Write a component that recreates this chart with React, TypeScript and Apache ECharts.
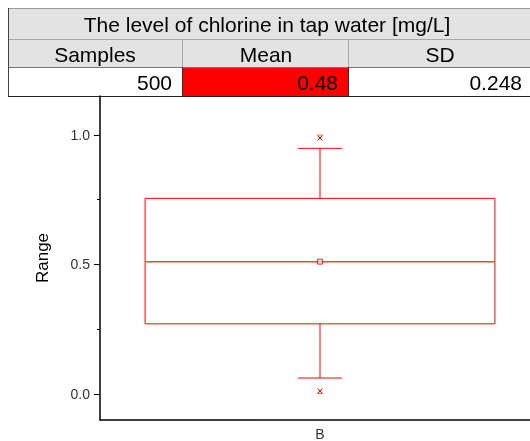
import React, { useEffect, useRef } from "react";
import * as echarts from "echarts";

// ---- data ----
const categories = ["B"];
const whiskerLow = [0.062];
const q1 = [0.271];
const median = [0.511];
const q3 = [0.755];
const whiskerHigh = [0.948];
const means = [0.511];
const pct1 = [0.012];
const pct99 = [0.988];
const minVals = [0.002];
const maxVals = [0.999];
const yMajorTicks = [0, 0.5, 1.0];
const yMinorTicks = [0.25, 0.75];

const tableTitle = "The level of chlorine in tap water [mg/L]";
const tableHeaders = ["Samples", "Mean", "SD"];
const tableValues = ["500", "0.48", "0.248"];

const RED = "#ff0000";
const FONT = "Liberation Sans, Arial, sans-serif";

export default function App() {
  const ref = useRef<HTMLDivElement>(null);
  useEffect(() => {
    if (!ref.current) return;
    const chart = echarts.init(ref.current, null, { renderer: "svg" });

    const boxData = categories.map((_, i) => [i, whiskerLow[i], q1[i], median[i], q3[i], whiskerHigh[i]]);
    const xMarks: number[][] = [];
    const dashMarks: number[][] = [];
    categories.forEach((_, i) => {
      xMarks.push([i, pct1[i]], [i, pct99[i]]);
      dashMarks.push([i, minVals[i]], [i, maxVals[i]]);
    });
    const meanData = categories.map((_, i) => [i, means[i]]);

    // table geometry
    const tX = 8, tR = 534;
    const colX = [8, 182, 348, 534];
    const rowY = [8, 39, 67, 96];
    const graphics: any[] = [];
    graphics.push({ type: "rect", shape: { x: tX, y: rowY[0], width: tR - tX, height: rowY[2] - rowY[0] }, style: { fill: "#e3e3e3" }, silent: true });
    graphics.push({ type: "rect", shape: { x: tX, y: rowY[2], width: tR - tX, height: rowY[3] - rowY[2] }, style: { fill: "#ffffff" }, silent: true });
    graphics.push({ type: "rect", shape: { x: colX[1], y: rowY[2], width: colX[2] - colX[1], height: rowY[3] - rowY[2] }, style: { fill: RED }, silent: true });
    const hl = (y: number, c: string, w = 1) => graphics.push({ type: "line", shape: { x1: tX, y1: y, x2: tR, y2: y }, style: { stroke: c, lineWidth: w }, silent: true });
    hl(rowY[0] + 0.5, "#9a9a9a");
    hl(rowY[1] + 0.5, "#a8a8a8");
    hl(rowY[2] + 0.5, "#777777");
    hl(rowY[3] + 0.5, "#222222");
    graphics.push({ type: "line", shape: { x1: tX + 0.5, y1: rowY[0], x2: tX + 0.5, y2: rowY[3] }, style: { stroke: "#444", lineWidth: 1 }, silent: true });
    [1, 2].forEach((c) => {
      graphics.push({ type: "line", shape: { x1: colX[c] + 0.5, y1: rowY[1], x2: colX[c] + 0.5, y2: rowY[2] }, style: { stroke: "#a8a8a8", lineWidth: 1 }, silent: true });
      graphics.push({ type: "line", shape: { x1: colX[c] + 0.5, y1: rowY[2], x2: colX[c] + 0.5, y2: rowY[3] }, style: { stroke: "#333", lineWidth: 1 }, silent: true });
    });
    graphics.push({ type: "text", x: 267, y: (rowY[0] + rowY[1]) / 2 + 1, style: { text: tableTitle, fill: "#000", font: `21px ${FONT}`, align: "center", verticalAlign: "middle" }, silent: true });
    const headerCenters = [95, 266, 440];
    tableHeaders.forEach((h, i) => {
      graphics.push({ type: "text", x: headerCenters[i], y: (rowY[1] + rowY[2]) / 2 + 1, style: { text: h, fill: "#000", font: `21px ${FONT}`, align: "center", verticalAlign: "middle" }, silent: true });
    });
    const valueRights = [172, 338, 522];
    tableValues.forEach((v, i) => {
      graphics.push({ type: "text", x: valueRights[i], y: (rowY[2] + rowY[3]) / 2 + 1, style: { text: v, fill: "#000", font: `21px ${FONT}`, align: "right", verticalAlign: "middle" }, silent: true });
    });

    chart.setOption({
      animation: false,
      textStyle: { fontFamily: FONT },
      grid: { left: 100, right: 0, top: 96, bottom: 21 },
      xAxis: {
        type: "category",
        data: categories,
        axisLine: { onZero: false, lineStyle: { color: "#000", width: 1.5 } },
        axisTick: { alignWithLabel: true, length: 4, lineStyle: { color: "#000" } },
        axisLabel: { fontSize: 14, color: "#333", margin: 7, fontFamily: FONT },
        splitLine: { show: false },
      },
      yAxis: [
        {
          type: "value",
          min: -0.1,
          max: 1.15,
          name: "Range",
          nameLocation: "middle",
          nameGap: 49,
          nameTextStyle: { fontSize: 17, color: "#000", fontFamily: FONT },
          axisLine: { show: true, lineStyle: { color: "#000", width: 1.5 } },
          axisTick: { show: true, length: 6, customValues: yMajorTicks, lineStyle: { color: "#000" } },
          axisLabel: { customValues: yMajorTicks, formatter: (v: number) => v.toFixed(1), fontSize: 14, color: "#333", margin: 10, fontFamily: FONT },
          splitLine: { show: false },
        },
        {
          type: "value",
          min: -0.1,
          max: 1.15,
          position: "left",
          axisLine: { show: false },
          axisTick: { show: true, length: 3, customValues: yMinorTicks, lineStyle: { color: "#000" } },
          axisLabel: { show: false },
          splitLine: { show: false },
        },
      ],
      graphic: graphics,
      series: [
        {
          type: "custom",
          data: boxData,
          z: 3,
          renderItem: (params: any, api: any) => {
            const x = api.value(0);
            const pLo = api.coord([x, api.value(1)]);
            const pQ1 = api.coord([x, api.value(2)]);
            const pMed = api.coord([x, api.value(3)]);
            const pQ3 = api.coord([x, api.value(4)]);
            const pHi = api.coord([x, api.value(5)]);
            const band = api.size([1, 0])[0];
            const bw = band * 0.795;
            const cw = band * 0.1;
            const cx = pQ1[0];
            const st = { stroke: RED, lineWidth: 1, fill: "none" };
            return {
              type: "group",
              children: [
                { type: "rect", shape: { x: cx - bw / 2, y: pQ3[1], width: bw, height: pQ1[1] - pQ3[1] }, style: st },
                { type: "line", shape: { x1: cx - bw / 2, y1: pMed[1], x2: cx + bw / 2, y2: pMed[1] }, style: { stroke: "#ff4040", lineWidth: 1.5 } },
                { type: "line", shape: { x1: cx, y1: pQ3[1], x2: cx, y2: pHi[1] }, style: st },
                { type: "line", shape: { x1: cx, y1: pQ1[1], x2: cx, y2: pLo[1] }, style: st },
                { type: "line", shape: { x1: cx - cw / 2, y1: pHi[1], x2: cx + cw / 2, y2: pHi[1] }, style: st },
                { type: "line", shape: { x1: cx - cw / 2, y1: pLo[1], x2: cx + cw / 2, y2: pLo[1] }, style: st },
              ],
            };
          },
        },
        {
          type: "custom",
          data: xMarks,
          z: 4,
          renderItem: (params: any, api: any) => {
            const p = api.coord([api.value(0), api.value(1)]);
            const s = 2.5;
            const st = { stroke: RED, lineWidth: 1 };
            return {
              type: "group",
              children: [
                { type: "line", shape: { x1: p[0] - s, y1: p[1] - s, x2: p[0] + s, y2: p[1] + s }, style: st },
                { type: "line", shape: { x1: p[0] - s, y1: p[1] + s, x2: p[0] + s, y2: p[1] - s }, style: st },
              ],
            };
          },
        },
        {
          type: "custom",
          data: dashMarks,
          z: 4,
          renderItem: (params: any, api: any) => {
            const p = api.coord([api.value(0), api.value(1)]);
            return { type: "line", shape: { x1: p[0] - 3, y1: p[1], x2: p[0] + 3, y2: p[1] }, style: { stroke: "#ff6060", lineWidth: 1 } };
          },
        },
        {
          type: "scatter",
          data: meanData,
          symbol: "rect",
          symbolSize: 5,
          z: 5,
          itemStyle: { color: "#ffd0d0", borderColor: RED, borderWidth: 1 },
        },
      ],
    });
    return () => chart.dispose();
  }, []);
  return <div ref={ref} style={{ position: "fixed", left: 0, top: 0, width: 540, height: 441 }} />;
}
